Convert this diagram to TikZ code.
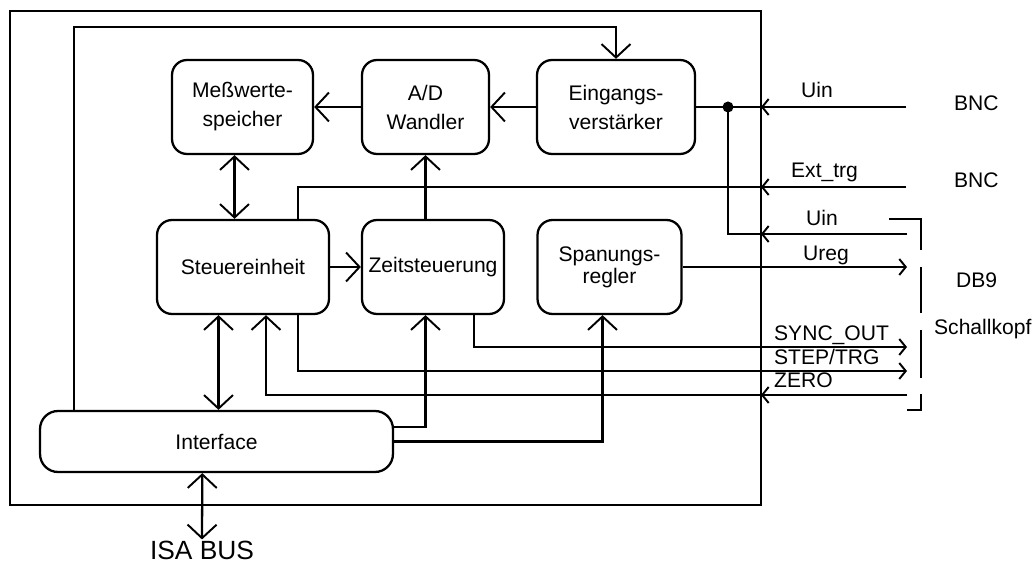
\documentclass[tikz,border=0pt]{standalone}
\usepackage{fontspec}
\setmainfont{Liberation Sans}
\usetikzlibrary{arrows.meta}

\begin{document}
\begin{tikzpicture}[x=0.02cm, y=-0.02cm, line width=1.3pt,
  box/.style={draw, rounded corners=0.3cm, minimum height=1.88cm, inner sep=0, align=center, font=\fontsize{12}{16.5}\selectfont},
  lbl/.style={anchor=base west, inner sep=0, font=\fontsize{12}{14}\selectfont},
  arr/.style={-{Straight Barb[length=0.27cm,width=0.58cm,line width=1.1pt]}},
  arrr/.style={{Straight Barb[length=0.27cm,width=0.58cm,line width=1.1pt]}-{Straight Barb[length=0.27cm,width=0.58cm,line width=1.1pt]}},
  sarr/.style={-{Straight Barb[length=0.13cm,width=0.32cm,line width=1.1pt]}}]
\useasboundingbox (0,0) rectangle (1034,563);
% Karte
\node[draw, minimum width=15.02cm, minimum height=9.88cm, inner sep=0, outer sep=0] (frame) at (385.5,258) {};

% Baugruppen
\node[box, minimum width=2.82cm] (mess) at (242.5,107) {Meßwerte-\\speicher};
\node[box, minimum width=2.54cm] (adw) at (425.5,107) {A/D\\Wandler};
\node[box, minimum width=3.16cm] (eing) at (616,107) {Eingangs-\\verstärker};
\node[box, minimum width=3.44cm] (steuer) at (243,267) {Steuereinheit};
\node[box, minimum width=2.84cm] (zeit) at (433,267) {Zeitsteuerung};
\node[box, minimum width=2.88cm] (span) at (609.5,267) {Spanungs-\\[-4pt]regler};
\node[box, minimum width=7.06cm, minimum height=1.22cm, rounded corners=0.36cm] (iface) at (216.5,441.5) {Interface};
\node[circle, fill, inner sep=0, minimum size=0.22cm] (dot) at (728,107) {};
\node[anchor=base, inner sep=0, font=\fontsize{15}{18}\selectfont] (isa) at (202,559) {ISA BUS};

% Anschluesse aussen
\coordinate (uin1) at (906,107);
\coordinate (ext) at (906,187);
\coordinate (uin2) at (907,234);
\coordinate (ureg) at (907,267);
\coordinate (sync) at (907,347);
\coordinate (step) at (907,371);
\coordinate (zero) at (907,395);

% interne Verbindungen
\draw[arr] (adw) -- (mess);
\draw[arr] (eing) -- (adw);
\draw[arr] (steuer) -- (zeit);
\draw[arrr] ([xshift=-0.16cm]mess.south) -- ([xshift=-0.16cm]mess.south |- steuer.north);
\draw[arr] (adw.south |- zeit.north) -- (adw.south);
\draw[arrr] ([xshift=-0.49cm]steuer.south) -- ([xshift=-0.49cm]steuer.south |- iface.north);
\draw[arr] ([xshift=-2.85cm]iface.north) |- ([yshift=0.64cm]eing.north) -- (eing.north);
\draw[arr] ([yshift=0.29cm]iface.east) -| (adw.south |- zeit.south);
\draw[arr] (iface.east) -| ([xshift=-0.14cm]span.south);
\draw[arrr] ([xshift=-0.284cm]iface.south) -- (isa.north);

% Signale nach aussen
\draw (uin1) -- (eing.east);
\draw[sarr] (uin1) -- (uin1 -| frame.east);
\draw (ext) -| ([xshift=1.1cm]steuer.north);
\draw[sarr] (ext) -- (ext -| frame.east);
\draw (uin2) -| (dot.center);
\draw[sarr] (uin2) -- (uin2 -| frame.east);
\draw[sarr] (span.east) -- (ureg);
\draw[sarr] ([xshift=0.82cm]zeit.south) |- (sync);
\draw[sarr] ([xshift=1.1cm]steuer.south) |- (step);
\draw[arr] (zero) -| ([xshift=0.46cm]steuer.south);
\draw[sarr] (zero) -- (zero -| frame.east);

% Stecker
\draw (889,219) -- (921,219) -- (921,250);
\draw (921,267) -- (921,313);
\draw (921,330) -- (921,378);
\draw (921,394) -- (921,410) -- (907,410);

\node[lbl] (tUin) at (800,98) {Uin};
\node[lbl] (tBnc) at (953,111) {BNC};
\node[lbl] (tExt) at (790,178) {Ext\_trg};
\node[lbl] (tBncb) at (953,188) {BNC};
\node[lbl] (tUinb) at (805,226) {Uin};
\node[lbl] (tUreg) at (802,261) {Ureg};
\node[lbl] (tDb) at (955,288) {DB9};
\node[lbl] (tSync) at (773,341) {SYNC\_OUT};
\node[lbl] (tStep) at (773,365) {STEP/TRG};
\node[lbl] (tZero) at (773,388) {ZERO};
\node[lbl] (tKopf) at (933,335) {Schallkopf};
\end{tikzpicture}
\end{document}
